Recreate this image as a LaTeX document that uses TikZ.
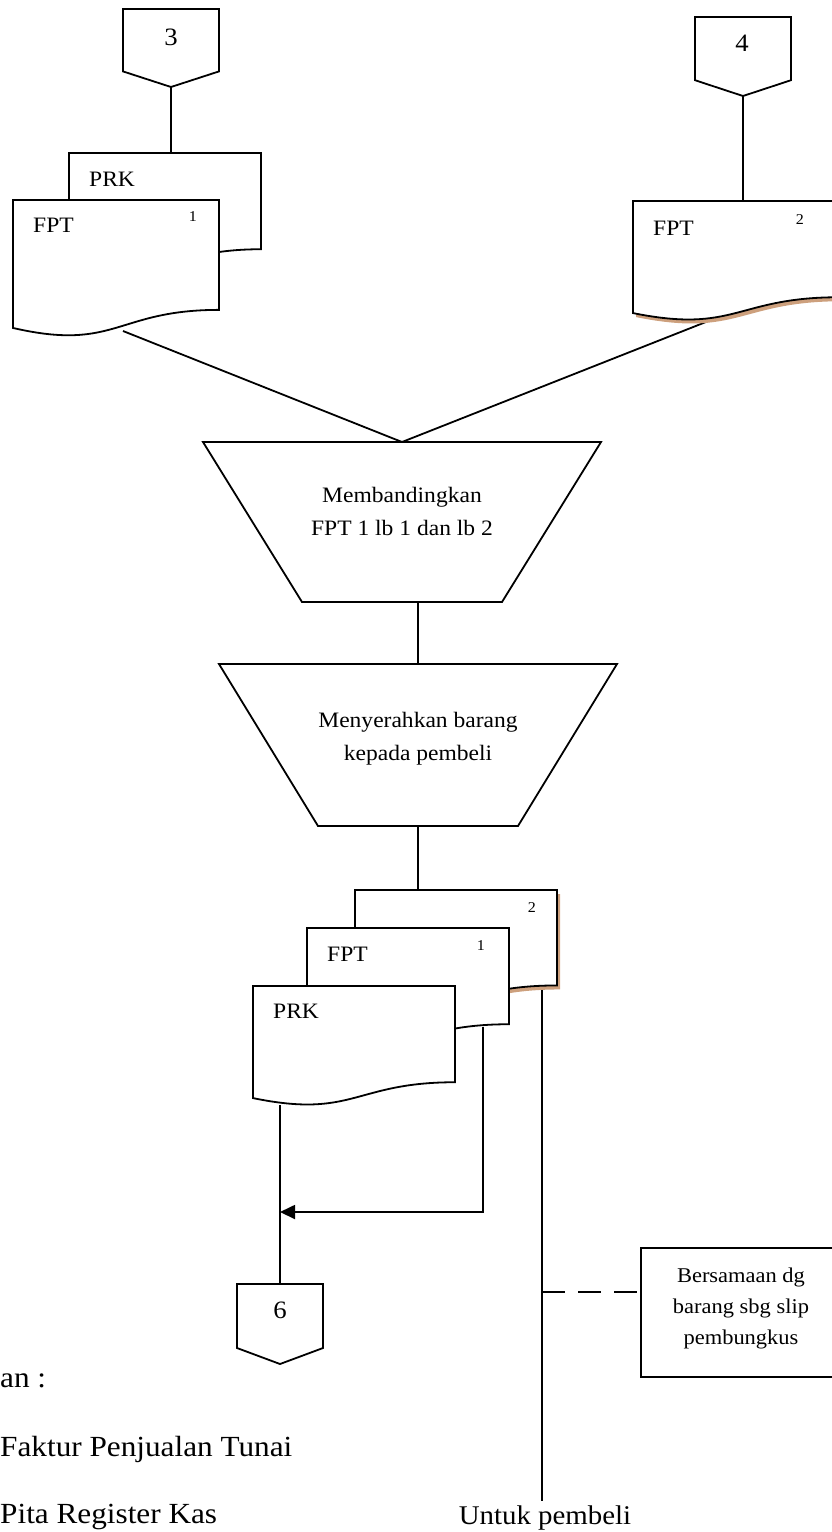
\documentclass[tikz,border=0pt]{standalone}
\usepackage{fontspec}
\setmainfont{Liberation Serif}[FakeStretch=1.07]
\usetikzlibrary{calc,arrows.meta}
\definecolor{shadowtan}{RGB}{205,160,125}

\tikzset{
  outline/.style={draw=black, line width=1.8pt, line join=miter},
  wire/.style={draw=black, line width=1.8pt},
  thinwire/.style={draw=black, line width=1.4pt},
  shapebox/.style={draw=none, inner sep=0pt, outer sep=0pt, anchor=north west},
  maintext/.style={font=\fontsize{22}{32.5}\selectfont, inner sep=0pt, align=center},
  boxtext/.style={font=\fontsize{21}{31}\selectfont, inner sep=0pt, align=center},
  doctext/.style={font=\fontsize{22}{26}\selectfont, inner sep=0pt, anchor=base west},
  copytext/.style={font=\fontsize{15}{17}\selectfont, inner sep=0pt},
  numtext/.style={font=\fontsize{25}{28}\selectfont, inner sep=0pt},
  legendtext/.style={font=\fontsize{29.2}{34}\selectfont, inner sep=0pt, anchor=base west},
}

% flowchart document: flat top, wavy bottom
\newcommand\docshape[2][]{%
  \path[outline,fill=white,#1] (#2.north west) -- (#2.north east)
    -- ($(#2.north east)!0.802!(#2.south east)$)
    .. controls ($(#2.north)!0.802!(#2.south)$) and ($(#2.north)!1.1075!(#2.south)$)
    .. ($(#2.north west)!0.934!(#2.south west)$) -- cycle;}
% tan drop shadow under a document
\newcommand\docshadow[1]{%
  \begin{scope}[transform canvas={shift={(3pt,-4pt)}}]
    \docshape[draw=none,fill=shadowtan]{#1}
  \end{scope}}
% off-page connector pointing down
\newcommand\offpage[1]{%
  \path[outline,fill=white] (#1.north west) -- (#1.north east)
    -- ($(#1.north east)!0.8!(#1.south east)$) -- (#1.south)
    -- ($(#1.north west)!0.8!(#1.south west)$) -- cycle;}
% manual operation (inverted trapezoid)
\newcommand\manualop[1]{%
  \path[outline,fill=white] (#1.north west) -- (#1.north east)
    -- ($(#1.south east)+(-99,0)$) -- ($(#1.south west)+(99,0)$) -- cycle;}

\begin{document}
\begin{tikzpicture}[x=1pt,y=-1pt]
\useasboundingbox (0,0) rectangle (832,1532);
\clip (0,0) rectangle (832,1532);

% ---- shape frames ----
\node[shapebox, minimum width=96pt, minimum height=78pt] (c3) at (123,9) {};
\node[shapebox, minimum width=96pt, minimum height=79pt] (c4) at (695,17) {};
\node[shapebox, minimum width=86pt, minimum height=80pt] (c6) at (237,1284) {};

\node[shapebox, minimum width=192pt, minimum height=120pt] (tlprk) at (69,153) {};
\node[shapebox, minimum width=206pt, minimum height=137pt] (tlfpt) at (13,200) {};
\node[shapebox, minimum width=206pt, minimum height=120pt] (trfpt) at (633,201) {};

\node[shapebox, minimum width=398pt, minimum height=160pt] (t1) at (203,442) {};
\node[shapebox, minimum width=398pt, minimum height=162pt] (t2) at (219,664) {};

\node[shapebox, minimum width=202pt, minimum height=119pt] (ldoc2) at (355,890) {};
\node[shapebox, minimum width=202pt, minimum height=120pt] (ldoc1) at (307,928) {};
\node[shapebox, minimum width=202pt, minimum height=120pt] (lprk) at (253,986) {};

\node[shapebox, minimum width=200pt, minimum height=129pt, draw, line width=1.8pt] (note) at (641,1248) {};

\node[font=\fontsize{27}{32}\selectfont, inner sep=0pt, anchor=base] (untuk) at (545,1524) {Untuk pembeli};

% ---- connection points ----
\coordinate (tlout) at (123,331);
\coordinate (trout) at (716,318);
\coordinate (d1out) at (483,1027);
\coordinate (prkout) at (280,1105);
\coordinate (d2out) at (542,986);
\coordinate (join) at (280,1212);
\coordinate (notein) at (641,1292);

% ---- connectors ----
\draw[wire] (c3.south) -- (c3.south |- tlprk.north);
\draw[wire] (c4.south) -- (c4.south |- trfpt.north);
\draw[wire] (tlout) -- (t1.north);
\draw[wire] (trout) -- (t1.north);
\draw[wire] (t2.north |- t1.south) -- (t2.north);
\draw[wire] (t2.south) -- (t2.south |- ldoc2.north);
\draw[wire, -{Triangle[length=15pt,width=14pt]}] (d1out) |- (join);
\draw[wire] (prkout) -- (c6.north);
\draw[thinwire] (d2out) -- ([yshift=4pt]d2out |- untuk.north);
\draw[thinwire, dash pattern=on 23pt off 13pt] (d2out |- notein) -- (notein);

% ---- shapes ----
\offpage{c3}
\offpage{c4}
\offpage{c6}
\node[numtext] (n3) at (171,37) {3};
\node[numtext] (n4) at (742,43) {4};
\node[numtext] (n6) at (280,1310) {6};

\docshape{tlprk}
\docshape{tlfpt}
\docshadow{trfpt}
\docshape{trfpt}
\node[doctext] (tlprkt) at (89,186) {PRK};
\node[doctext] (tlfptt) at (33,232) {FPT};
\node[copytext] (tl1) at (193,217) {1};
\node[doctext] (trfptt) at (653,235) {FPT};
\node[copytext] (tr2) at (800,220) {2};

\manualop{t1}
\manualop{t2}
% the base anchor of a multi-line node sits on its last line
\node[maintext, anchor=base] (t1t) at (402,535) {Membandingkan\\FPT 1 lb 1 dan lb 2};
\node[maintext, anchor=base] (t2t) at (418,760) {Menyerahkan barang\\kepada pembeli};

\docshadow{ldoc2}
\docshape{ldoc2}
\docshape{ldoc1}
\docshape{lprk}
\node[copytext] (l2) at (532,908) {2};
\node[doctext] (l1t) at (327,961) {FPT};
\node[copytext] (l1) at (481,946) {1};
\node[doctext] (lprkt) at (273,1018) {PRK};

\node[boxtext, anchor=base] (notet) at (741,1344) {Bersamaan dg\\barang sbg slip\\pembungkus};

% ---- legend ----
\node[legendtext] (leg0) at (0,1387) {an :};
\node[legendtext] (leg1) at (0,1456) {Faktur Penjualan Tunai};
\node[legendtext] (leg2) at (0,1523) {Pita Register Kas};
\end{tikzpicture}
\end{document}
